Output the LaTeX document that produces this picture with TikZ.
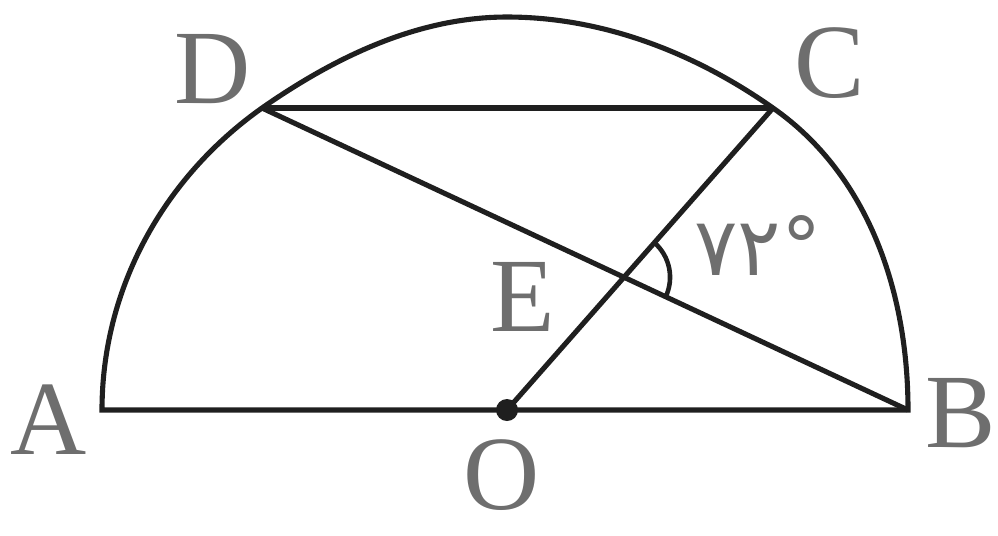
\documentclass[tikz,border=0pt]{standalone}
\usepackage{fontspec}
\setmainfont{Liberation Serif}
\newfontfamily\farsifont[Script=Arabic]{DejaVu Sans}
\usetikzlibrary{calc,angles}

\begin{document}
\begin{tikzpicture}[x=0.01cm, y=-0.01cm,
  ln/.style={line width=1.45pt, draw=black!88},
  lbl/.style={text=black!57, font=\fontsize{30}{32}\selectfont, inner sep=0pt},
  dot/.style={circle, fill=black!88, inner sep=0pt, minimum size=0.22cm}]
  \useasboundingbox (0,0) rectangle (998,535);
  \coordinate (A) at (102,410);
  \coordinate (B) at (908,410);
  \coordinate (O) at (507,410);
  \coordinate (C) at (773,108);
  \coordinate (D) at (262,108);
  \coordinate (T) at (507,17);
  \coordinate (E) at (intersection of D--B and O--C);
  \draw[ln] (A) .. controls (102,289) and (163,178) .. (D)
    .. controls (335,57) and (418,17) .. (T)
    .. controls (603,17) and (695,53) .. (C)
    .. controls (869,175) and (908,293) .. (B) -- cycle;
  \draw[ln] (D) -- (C);
  \draw[ln] (D) -- (B);
  \draw[ln] (O) -- (C);
  \pic[ln, line width=1.3pt, angle radius=0.46cm] {angle=B--E--C};
  \node[dot] (Odot) at (O) {};
  \node[lbl] (lA) at (49,420) {A};
  \node[lbl] (lB) at (961,413) {B};
  \node[lbl] (lC) at (830,63) {C};
  \node[lbl] (lD) at (213,69) {D};
  \node[lbl] (lE) at (523,297) {E};
  \node[lbl] (lO) at (502,475) {O};
  \node[lbl, font=\farsifont\fontsize{23}{25}\selectfont] (ang) at (758,245) {۷۲°};
\end{tikzpicture}
\end{document}
